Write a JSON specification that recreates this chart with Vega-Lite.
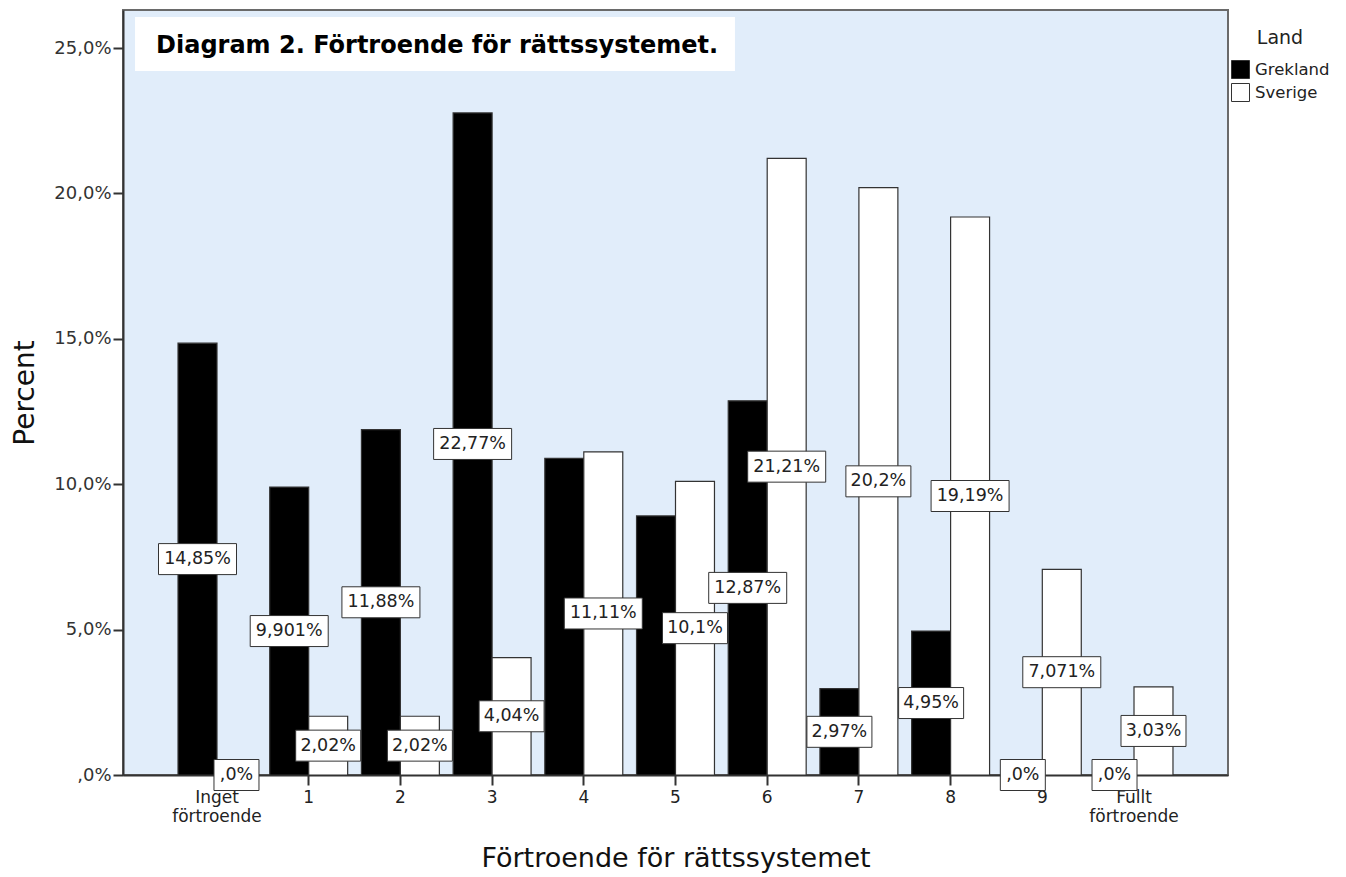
{
  "$schema": "https://vega.github.io/schema/vega-lite/v6.json",
  "width": 1105,
  "height": 765,
  "autosize": {"type": "none"},
  "padding": {"left": 123, "top": 10, "right": 118, "bottom": 102},
  "background": "white",
  "config": {
    "font": "DejaVu Sans",
    "view": {"fill": "#E1EDFA", "stroke": "#6a6a6a", "strokeWidth": 2},
    "axis": {"labelFont": "DejaVu Sans", "titleFont": "DejaVu Sans", "titleFontWeight": "normal", "labelColor": "#333", "titleColor": "#111", "tickColor": "#333", "domainColor": "#333", "grid": false},
    "legend": {"labelFont": "DejaVu Sans", "titleFont": "DejaVu Sans"}
  },
  "layer": [
    {
      "data": {"values": [
        {"kat": "Inget förtroende", "land": "Grekland", "pct": 14.85, "etikett": "14,85%"},
        {"kat": "Inget förtroende", "land": "Sverige", "pct": 0, "etikett": ",0%"},
        {"kat": "1", "land": "Grekland", "pct": 9.901, "etikett": "9,901%"},
        {"kat": "1", "land": "Sverige", "pct": 2.02, "etikett": "2,02%"},
        {"kat": "2", "land": "Grekland", "pct": 11.88, "etikett": "11,88%"},
        {"kat": "2", "land": "Sverige", "pct": 2.02, "etikett": "2,02%"},
        {"kat": "3", "land": "Grekland", "pct": 22.77, "etikett": "22,77%"},
        {"kat": "3", "land": "Sverige", "pct": 4.04, "etikett": "4,04%"},
        {"kat": "4", "land": "Grekland", "pct": 10.89, "etikett": null},
        {"kat": "4", "land": "Sverige", "pct": 11.11, "etikett": "11,11%"},
        {"kat": "5", "land": "Grekland", "pct": 8.911, "etikett": null},
        {"kat": "5", "land": "Sverige", "pct": 10.1, "etikett": "10,1%"},
        {"kat": "6", "land": "Grekland", "pct": 12.87, "etikett": "12,87%"},
        {"kat": "6", "land": "Sverige", "pct": 21.21, "etikett": "21,21%"},
        {"kat": "7", "land": "Grekland", "pct": 2.97, "etikett": "2,97%"},
        {"kat": "7", "land": "Sverige", "pct": 20.2, "etikett": "20,2%"},
        {"kat": "8", "land": "Grekland", "pct": 4.95, "etikett": "4,95%"},
        {"kat": "8", "land": "Sverige", "pct": 19.19, "etikett": "19,19%"},
        {"kat": "9", "land": "Grekland", "pct": 0, "etikett": ",0%"},
        {"kat": "9", "land": "Sverige", "pct": 7.071, "etikett": "7,071%"},
        {"kat": "Fullt förtroende", "land": "Grekland", "pct": 0, "etikett": ",0%"},
        {"kat": "Fullt förtroende", "land": "Sverige", "pct": 3.03, "etikett": "3,03%"}
      ]},
      "transform": [{"calculate": "datum.pct / 2", "as": "mitt"}],
      "encoding": {
        "x": {
          "field": "kat", "type": "nominal", "sort": null,
          "scale": {"domain": ["Inget förtroende", "1", "2", "3", "4", "5", "6", "7", "8", "9", "Fullt förtroende"], "paddingInner": 0.15, "paddingOuter": 0.6},
          "axis": {"title": "Förtroende för rättssystemet", "labelAngle": 0, "labelExpr": "split(datum.label, ' ')", "labelFontSize": 17, "labelLineHeight": 19, "labelColor": "#222", "tickSize": 10, "tickWidth": 2, "domainWidth": 2, "labelPadding": 4, "titleFontSize": 27, "titlePadding": 21, "titleColor": "#111"}
        },
        "xOffset": {"field": "land", "type": "nominal", "scale": {"domain": ["Grekland", "Sverige"], "paddingInner": 0, "paddingOuter": 0}}
      },
      "layer": [
        {
          "mark": {"type": "bar", "stroke": "#333", "strokeWidth": 1.2},
          "encoding": {
            "y": {
              "field": "pct", "type": "quantitative", "title": "Percent",
              "scale": {"domain": [0, 26.31], "nice": false, "zero": true},
              "axis": {"values": [0, 5, 10, 15, 20, 25], "labelExpr": "datum.value == 0 ? ',0%' : replace(format(datum.value, '.1f'), '.', ',') + '%'", "labelFontSize": 18, "tickSize": 10, "tickWidth": 2, "domainWidth": 2, "labelPadding": 2, "titleFontSize": 28, "titlePadding": 14, "titleColor": "#111"}
            },
            "color": {
              "field": "land", "type": "nominal",
              "scale": {"domain": ["Grekland", "Sverige"], "range": ["#000000", "#ffffff"]},
              "legend": {"title": "Land", "orient": "none", "legendX": 1108, "legendY": 19, "titleFontSize": 19, "titleFontWeight": "normal", "titleColor": "#222", "titleAlign": "center", "titleAnchor": "middle", "titlePadding": 12, "labelFontSize": 16.5, "labelColor": "#222", "labelOffset": 5, "symbolType": "square", "symbolSize": 324, "symbolStrokeColor": "#333", "symbolStrokeWidth": 1, "rowPadding": 0}
            }
          }
        },
        {
          "transform": [{"filter": "isValid(datum.etikett) && length(datum.etikett) == 6"}],
          "mark": {"type": "rect", "width": 78, "height": 31, "fill": "white", "stroke": "#333", "strokeWidth": 1},
          "encoding": {"y": {"field": "mitt", "type": "quantitative", "title": "Percent"}}
        },
        {
          "transform": [{"filter": "isValid(datum.etikett) && length(datum.etikett) == 5"}],
          "mark": {"type": "rect", "width": 65, "height": 31, "fill": "white", "stroke": "#333", "strokeWidth": 1},
          "encoding": {"y": {"field": "mitt", "type": "quantitative", "title": "Percent"}}
        },
        {
          "transform": [{"filter": "isValid(datum.etikett) && length(datum.etikett) == 3"}],
          "mark": {"type": "rect", "width": 45, "height": 31, "fill": "white", "stroke": "#333", "strokeWidth": 1},
          "encoding": {"y": {"field": "mitt", "type": "quantitative", "title": "Percent"}}
        },
        {
          "transform": [{"filter": "isValid(datum.etikett)"}],
          "mark": {"type": "text", "fontSize": 17.5, "align": "center", "baseline": "middle", "color": "#222", "font": "DejaVu Sans"},
          "encoding": {
            "y": {"field": "mitt", "type": "quantitative", "title": "Percent"},
            "text": {"field": "etikett", "type": "nominal"}
          }
        }
      ]
    },
    {
      "data": {"values": [{"rubrik": "Diagram 2. Förtroende för rättssystemet."}]},
      "layer": [
        {
          "mark": {"type": "rect", "fill": "white"},
          "encoding": {
            "x": {"datum": 0.0109, "type": "quantitative", "scale": {"domain": [0, 1], "nice": false, "zero": false}, "axis": null},
            "x2": {"datum": 0.5538},
            "y": {"datum": 26.07, "type": "quantitative", "title": "Percent"},
            "y2": {"datum": 24.21}
          }
        },
        {
          "mark": {"type": "text", "align": "left", "baseline": "alphabetic", "fontWeight": "bold", "fontSize": 24, "font": "DejaVu Sans", "color": "#000"},
          "encoding": {
            "x": {"datum": 0.0299, "type": "quantitative", "axis": null},
            "y": {"datum": 24.83, "type": "quantitative", "title": "Percent"},
            "text": {"field": "rubrik", "type": "nominal"}
          }
        }
      ]
    }
  ],
  "resolve": {"scale": {"x": "independent"}}
}
